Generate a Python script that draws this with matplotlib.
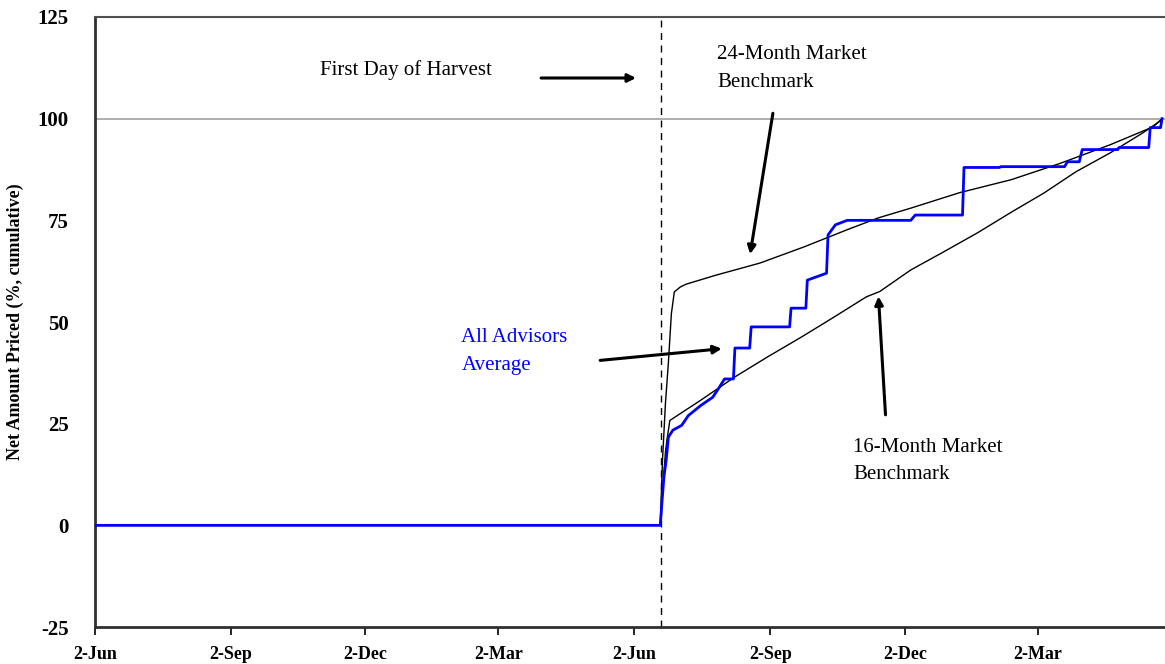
import numpy as np
import pandas as pd
import matplotlib
matplotlib.use("Agg")
import matplotlib.pyplot as plt
import matplotlib.dates as mdates

plt.rcParams['font.family'] = ['Liberation Serif', 'DejaVu Serif']
plt.rcParams['axes.unicode_minus'] = False

start = pd.Timestamp("2001-06-02")
end = pd.Timestamp("2003-05-27")
harvest_day = 383  # days after start

# days after 2-Jun of first year, values in % cumulative
adv_days = [0, 382.5, 383.5, 385, 386.5, 388, 391, 397, 401.5, 410, 418, 422, 426, 432, 433,
            443, 444, 470, 471, 481, 482, 495, 496, 501, 509, 552, 555, 587, 588, 612, 613,
            656, 658, 666, 668, 692, 693, 713, 714, 721, 722]
adv_vals = [0, 0, 5, 12, 16, 21.7, 23.4, 24.6, 27, 29.5, 31.5, 33.7, 36, 36, 43.6,
            43.6, 48.8, 48.8, 53.4, 53.4, 60.3, 62, 71.4, 73.9, 75, 75, 76.3, 76.3, 88, 88, 88.2,
            88.2, 89.4, 89.4, 92.4, 92.4, 92.9, 92.9, 97.8, 97.8, 100]

b24_days = [0, 382.5, 384, 386, 388, 390, 392, 396, 400, 420, 450, 480, 509, 530, 552, 585,
            620, 653, 687, 716, 722]
b24_vals = [0, 0, 16, 30, 40, 52, 57.4, 58.6, 59.3, 61.5, 64.5, 68.5, 72.7, 75.6, 78, 81.8,
            85, 89, 93.6, 98, 100]

b16_days = [0, 382.5, 384, 386, 387, 389, 410, 433, 455, 478, 500, 522, 531, 552, 574, 597,
            620, 642, 664, 687, 709, 721]
b16_vals = [0, 0, 8, 18, 21, 25.8, 30.8, 36.5, 41.4, 46.3, 51.2, 56.2, 57.5, 62.8, 67.2, 71.9,
            77, 81.7, 87, 91.6, 96.5, 99.5]

tick_labels = ['2-Jun', '2-Sep', '2-Dec', '2-Mar', '2-Jun', '2-Sep', '2-Dec', '2-Mar']
tick_dates = pd.to_datetime(['2001-06-02', '2001-09-02', '2001-12-02', '2002-03-02',
                             '2002-06-02', '2002-09-02', '2002-12-02', '2003-03-02'])


def to_dates(days):
    return [start + pd.Timedelta(days=d) for d in days]


fig = plt.figure(figsize=(11.65, 6.64), dpi=100)
ax = fig.add_axes([0.0815, 0.0557, 0.9185, 0.9187])

ax.axhline(100, color='#a0a0a0', lw=1.2, zorder=1)
harvest = start + pd.Timedelta(days=harvest_day)
ax.axvline(harvest, color='black', lw=1, ls=(0, (5, 4)), zorder=2)

ax.plot(to_dates(b24_days), b24_vals, color='black', lw=1, zorder=3)
ax.plot(to_dates(b16_days), b16_vals, color='black', lw=1, zorder=3)
ax.plot(to_dates(adv_days), adv_vals, color='#0000ff', lw=2, zorder=4)

ax.set_xlim(start, end)
ax.set_ylim(-25, 125)
ax.set_yticks([-25, 0, 25, 50, 75, 100, 125])
ax.set_xticks(tick_dates)
ax.set_xticklabels(tick_labels)
for lab in ax.get_yticklabels():
    lab.set_fontsize(15)
    lab.set_fontweight('bold')
for lab in ax.get_xticklabels():
    lab.set_fontsize(13)
    lab.set_fontweight('bold')

ax.tick_params(axis='y', length=0, pad=19)
ax.tick_params(axis='x', length=6, width=1.2, direction='out', pad=8)
ax.set_ylabel('Net Amount Priced (%, cumulative)', fontsize=13, fontweight='bold')
ax.yaxis.set_label_coords(-0.066, 0.5)

for side in ['left', 'bottom']:
    ax.spines[side].set_linewidth(2)
    ax.spines[side].set_color('#303030')
ax.spines['top'].set_color('#505050')
ax.spines['top'].set_linewidth(1.5)
ax.spines['right'].set_visible(False)

def d(days):
    return mdates.date2num(start + pd.Timedelta(days=days))

arrow = dict(arrowstyle='-|>', color='black', lw=2.2, mutation_scale=12)
ax.text(d(152), 112, 'First Day of Harvest', fontsize=15, va='center')
ax.annotate('', xy=(d(368), 110), xytext=(d(300), 110), arrowprops=arrow)

ax.text(d(421), 118, '24-Month Market\nBenchmark', fontsize=15, va='top', linespacing=1.6)
ax.annotate('', xy=(d(443), 66), xytext=(d(459), 102), arrowprops=arrow)

ax.text(d(248), 48.5, 'All Advisors\nAverage', fontsize=15, va='top', color='#0000ff',
        linespacing=1.6)
ax.annotate('', xy=(d(426), 43.5), xytext=(d(340), 40.5), arrowprops=arrow)

ax.text(d(513), 21.5, '16-Month Market\nBenchmark', fontsize=15, va='top', linespacing=1.6)
ax.annotate('', xy=(d(530), 57), xytext=(d(535), 26.5), arrowprops=arrow)

fig.savefig('out.png', dpi=100)
